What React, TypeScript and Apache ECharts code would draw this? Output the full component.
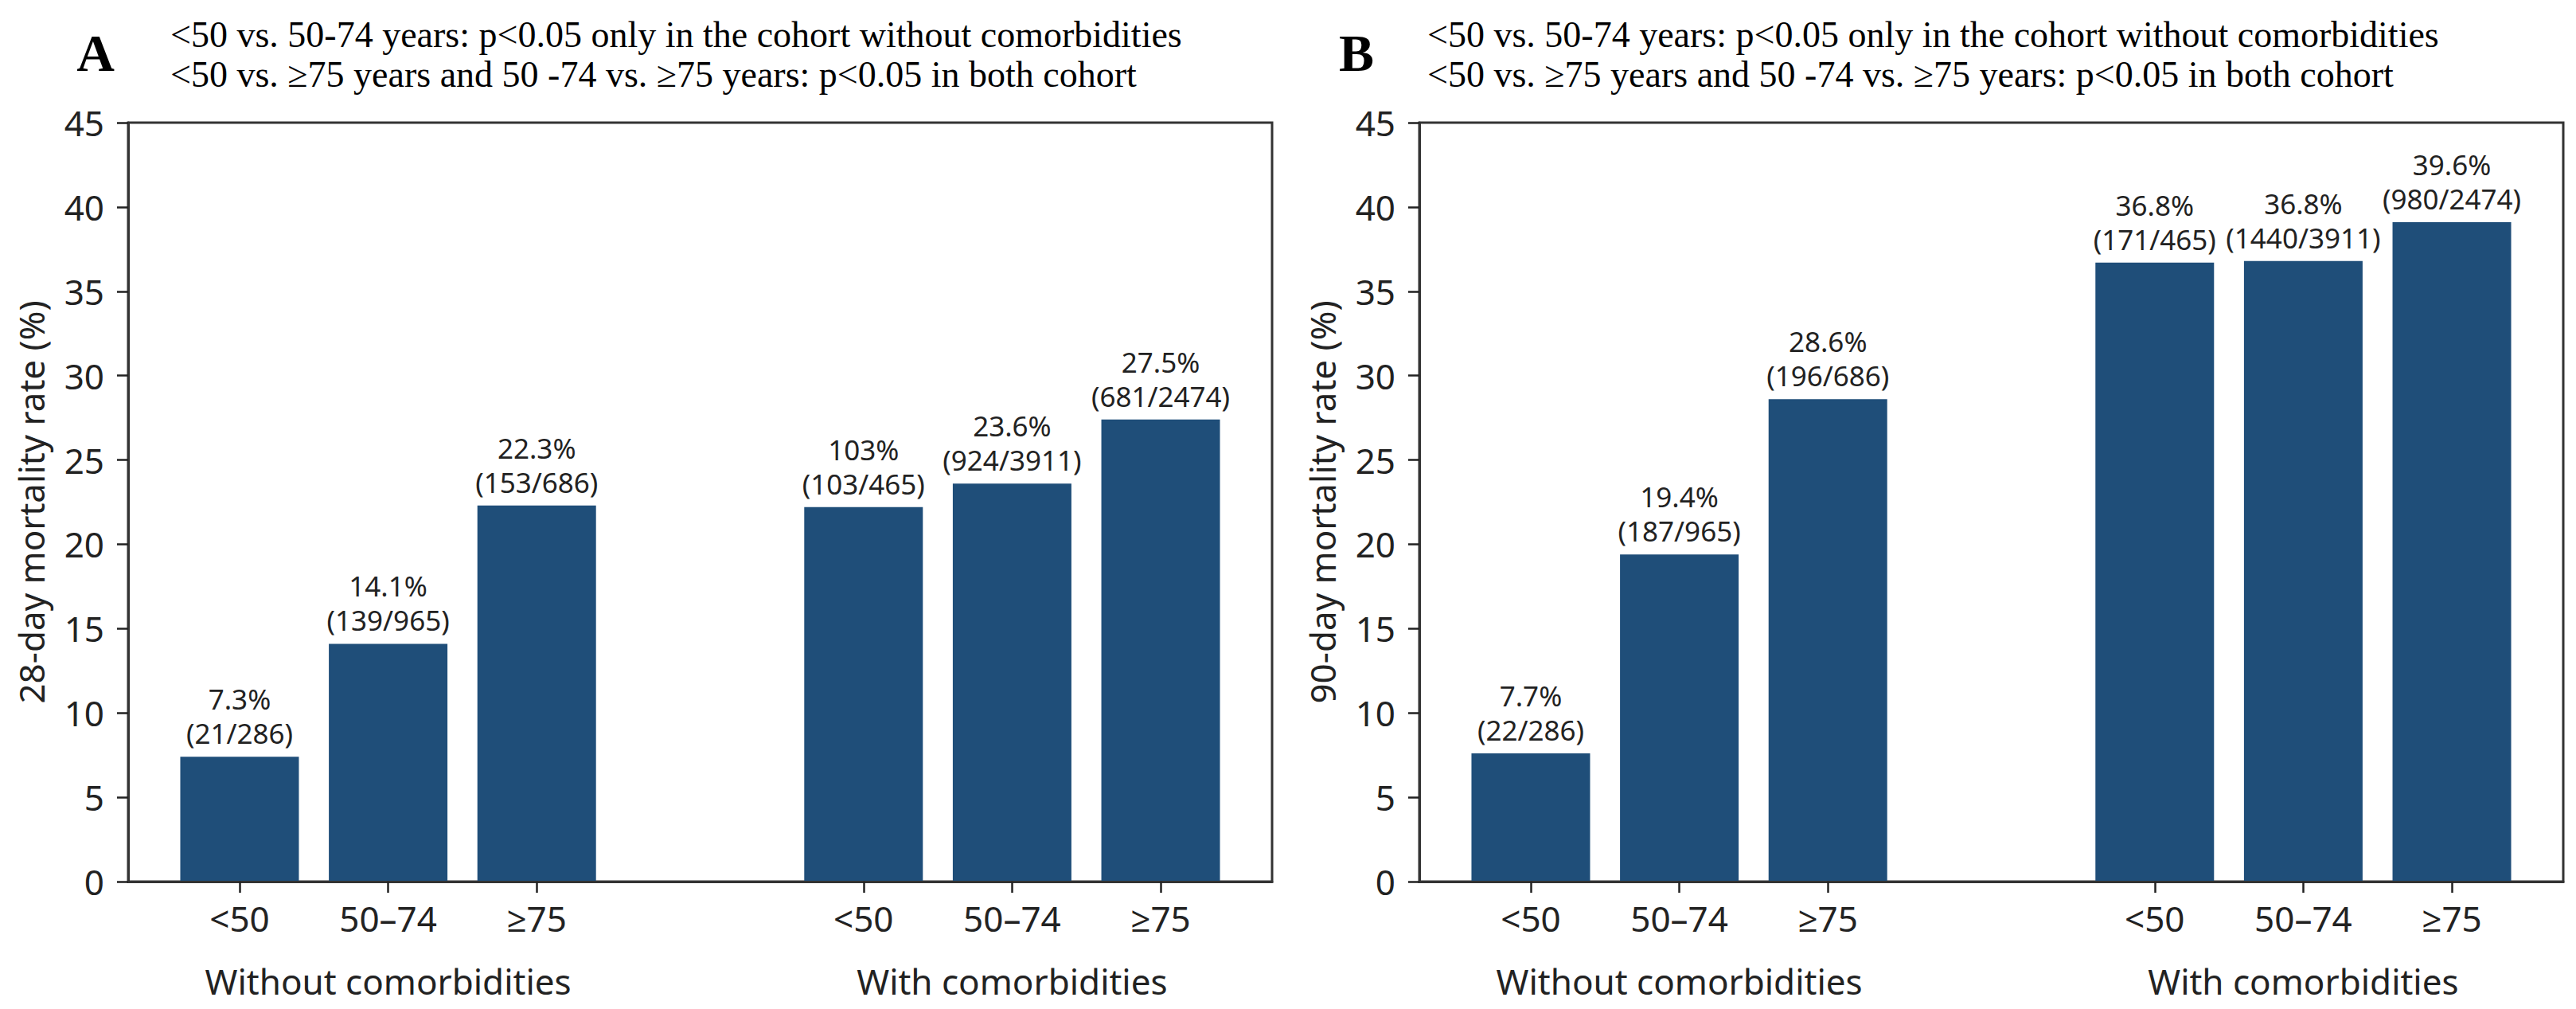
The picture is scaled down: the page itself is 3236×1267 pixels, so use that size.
import React, { useEffect, useRef } from "react";
import * as echarts from "echarts";

// ---- data ----
const ageGroups = ["<50", "50–74", "≥75", "<50", "50–74", "≥75"];
const cohortNames = ["Without comorbidities", "With comorbidities"];
const barPositions = [0, 1, 2, 4.2, 5.2, 6.2];
const cohortCenters = [1, 5.2];

const mortality28 = [7.4, 14.1, 22.3, 22.2, 23.6, 27.4];
const labels28 = [
  "7.3%\n(21/286)",
  "14.1%\n(139/965)",
  "22.3%\n(153/686)",
  "103%\n(103/465)",
  "23.6%\n(924/3911)",
  "27.5%\n(681/2474)",
];

const mortality90 = [7.6, 19.4, 28.6, 36.7, 36.8, 39.1];
const labels90 = [
  "7.7%\n(22/286)",
  "19.4%\n(187/965)",
  "28.6%\n(196/686)",
  "36.8%\n(171/465)",
  "36.8%\n(1440/3911)",
  "39.6%\n(980/2474)",
];

const yMin = 0;
const yMax = 45;
const yStep = 5;
const xMin = -0.75;
const xMax = 6.95;

const panelTitles = ["28-day mortality rate (%)", "90-day mortality rate (%)"];
const panelLetters = ["A", "B"];
const noteLines = [
  "<50 vs. 50-74 years: p<0.05 only in the cohort without comorbidities",
  "<50 vs. ≥75 years and 50 -74 vs. ≥75 years: p<0.05 in both cohort",
];

const BAR_COLOR = "#1f4e79";
const INK = "#222222";
const SANS = "'Noto Sans', 'Open Sans', sans-serif";
const SERIF = "'Liberation Serif', 'Times New Roman', serif";

function findIdx(arr: number[], v: number) {
  return arr.findIndex((p) => Math.abs(p - v) < 1e-6);
}

export default function App() {
  const ref = useRef<HTMLDivElement>(null);

  useEffect(() => {
    if (!ref.current) return;
    const chart = echarts.init(ref.current, undefined, { renderer: "svg" });

    const gridLefts = [161, 1783];
    const grids = gridLefts.map((left) => ({
      left,
      top: 154,
      width: 1437,
      height: 953,
      show: true,
      borderColor: "#333",
      borderWidth: 3,
      backgroundColor: "transparent",
      containLabel: false,
    }));

    const xAxes: any[] = [];
    const yAxes: any[] = [];
    const series: any[] = [];
    const values = [mortality28, mortality90];
    const labels = [labels28, labels90];

    [0, 1].forEach((g) => {
      xAxes.push({
        type: "value",
        gridIndex: g,
        min: xMin,
        max: xMax,
        position: "bottom",
        z: 10,
        splitLine: { show: false },
        axisLine: { show: true, onZero: false, lineStyle: { color: "#333", width: 3 } },
        axisTick: {
          show: true,
          customValues: barPositions,
          length: 14,
          lineStyle: { color: INK, width: 2.5 },
        },
        axisLabel: {
          show: true,
          customValues: barPositions,
          margin: 24,
          color: INK,
          fontSize: 44,
          fontFamily: SANS,
          formatter: (v: number) => {
            const i = findIdx(barPositions, v);
            return i >= 0 ? ageGroups[i] : "";
          },
        },
      });
      xAxes.push({
        type: "value",
        gridIndex: g,
        min: xMin,
        max: xMax,
        position: "bottom",
        splitLine: { show: false },
        axisLine: { show: false, onZero: false },
        axisTick: { show: false },
        axisLabel: {
          show: true,
          customValues: cohortCenters,
          margin: 103,
          color: INK,
          fontSize: 44,
          fontFamily: SANS,
          formatter: (v: number) => {
            const i = findIdx(cohortCenters, v);
            return i >= 0 ? cohortNames[i] : "";
          },
        },
      });
      yAxes.push({
        type: "value",
        gridIndex: g,
        min: yMin,
        max: yMax,
        interval: yStep,
        position: "left",
        z: 10,
        name: panelTitles[g],
        nameLocation: "middle",
        nameGap: 100,
        nameTextStyle: { color: INK, fontSize: 44, fontFamily: SANS },
        splitLine: { show: false },
        axisLine: { show: true, onZero: false, lineStyle: { color: "#333", width: 3 } },
        axisTick: { show: true, length: 14, lineStyle: { color: INK, width: 2.5 } },
        axisLabel: { margin: 30, color: INK, fontSize: 44, fontFamily: SANS },
      });
      series.push({
        type: "bar",
        xAxisIndex: g * 2,
        yAxisIndex: g,
        barWidth: 149,
        itemStyle: { color: BAR_COLOR },
        data: values[g].map((v, i) => [barPositions[i], v]),
        label: {
          show: true,
          position: "top",
          distance: 8,
          color: INK,
          fontSize: 35,
          lineHeight: 43,
          fontFamily: SANS,
          formatter: (p: any) => labels[g][p.dataIndex],
        },
      });
    });

    const graphics: any[] = [];
    const letterX = [120, 1704];
    const noteX = [214, 1793];
    [0, 1].forEach((g) => {
      graphics.push({
        type: "text",
        x: letterX[g],
        y: 66,
        style: {
          text: panelLetters[g],
          fill: "#000",
          font: `bold 66px ${SERIF}`,
          align: "center",
          verticalAlign: "middle",
        },
      });
      noteLines.forEach((line, k) => {
        graphics.push({
          type: "text",
          x: noteX[g],
          y: 43 + k * 50,
          style: {
            text: line,
            fill: "#000",
            font: `46px ${SERIF}`,
            align: "left",
            verticalAlign: "middle",
          },
        });
      });
    });

    chart.setOption({
      animation: false,
      backgroundColor: "#ffffff",
      grid: grids,
      xAxis: xAxes,
      yAxis: yAxes,
      series,
      graphic: graphics,
    });

    return () => chart.dispose();
  }, []);

  return (
    <div
      ref={ref}
      style={{ position: "fixed", left: 0, top: 0, width: 3236, height: 1267, background: "#fff" }}
    />
  );
}
